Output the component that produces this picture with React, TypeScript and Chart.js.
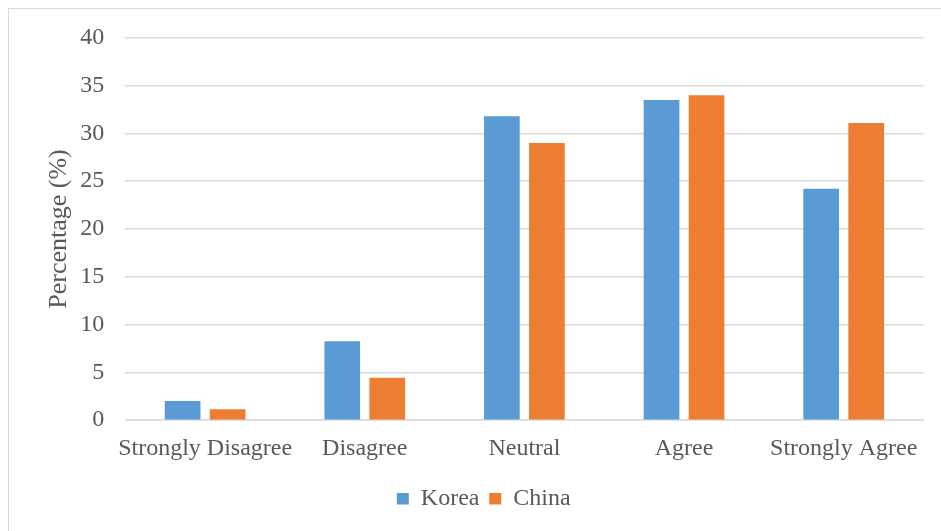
import React, { useEffect, useRef } from "react";
import { Chart, registerables } from "chart.js";

Chart.register(...registerables);

const categories = ["Strongly Disagree", "Disagree", "Neutral", "Agree", "Strongly Agree"];
const korea = [2.0, 8.25, 31.8, 33.5, 24.2];
const china = [1.15, 4.45, 29.0, 34.0, 31.1];
const yMin = 0;
const yMax = 40;
const yStep = 5;

export default function App() {
  const ref = useRef<HTMLCanvasElement>(null);
  useEffect(() => {
    if (!ref.current) return;
    const family = "'Liberation Serif', 'Times New Roman', serif";
    const font = { family, size: 24 };
    const chart = new Chart(ref.current, {
      type: "bar",
      data: {
        labels: categories,
        datasets: [
          { label: "Korea", data: korea, backgroundColor: "#5B9BD5", categoryPercentage: 0.564, barPercentage: 0.793 },
          { label: "China", data: china, backgroundColor: "#ED7D31", categoryPercentage: 0.564, barPercentage: 0.793 },
        ],
      },
      options: {
        responsive: false,
        animation: false,
        layout: { padding: { left: 34.9, right: 17.5, top: 28.8, bottom: 10.2 } },
        plugins: {
          legend: {
            position: "bottom",
            labels: { boxWidth: 12, boxHeight: 11.5, color: "#595959", font, padding: 9.8 },
          },
          tooltip: { enabled: false },
        },
        scales: {
          x: {
            grid: { display: false, drawTicks: false },
            border: { display: true, color: "#d9d9d9", width: 1.5 },
            ticks: { color: "#595959", font, padding: 14, maxRotation: 0, autoSkip: false },
            afterFit: (scale: any) => {
              scale.paddingLeft = 0;
              scale.paddingRight = 0;
            },
          },
          y: {
            min: yMin,
            max: yMax,
            ticks: { stepSize: yStep, color: "#595959", font, padding: 21 },
            grid: { color: "#d9d9d9", lineWidth: 1.5, drawTicks: false },
            border: { display: false },
            title: {
              display: true,
              text: "Percentage (%)",
              color: "#595959",
              font: { family, size: 26 },
              padding: { top: 0, bottom: -15.8 },
            },
            afterFit: (scale: any) => {
              scale.paddingTop = 0;
            },
          },
        },
      },
    });
    return () => chart.destroy();
  }, []);
  return (
    <div
      style={{
        position: "fixed",
        left: 8,
        top: 8,
        width: 940,
        height: 530,
        borderLeft: "1.5px solid #d9d9d9",
        borderTop: "1.5px solid #d9d9d9",
        background: "#fff",
      }}
    >
      <canvas ref={ref} width={932} height={522} style={{ display: "block" }} />
    </div>
  );
}
